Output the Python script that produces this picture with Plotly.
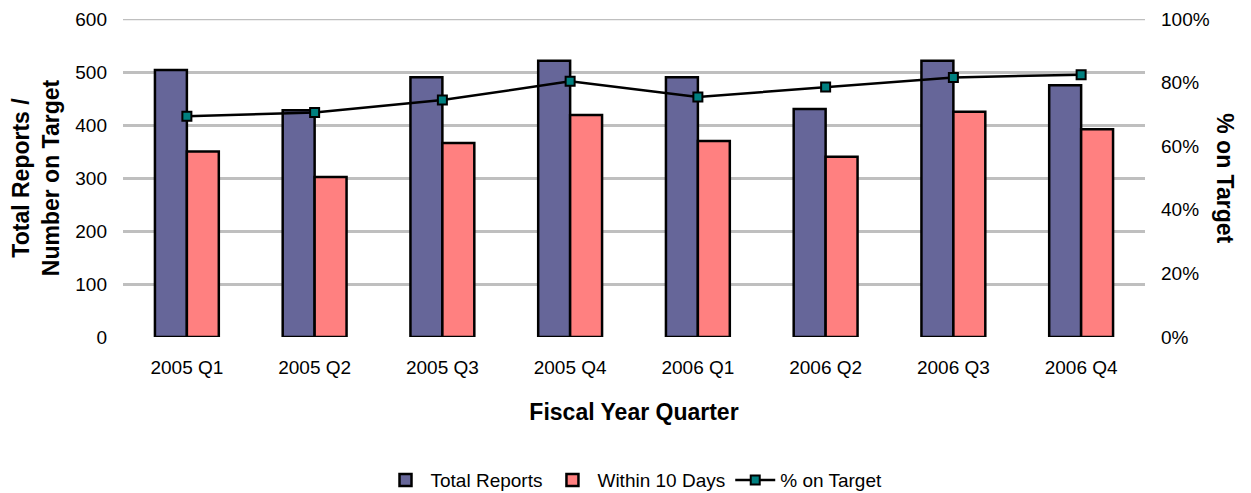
import plotly.graph_objects as go

quarters = ["2005 Q1", "2005 Q2", "2005 Q3", "2005 Q4", "2006 Q1", "2006 Q2", "2006 Q3", "2006 Q4"]
total_reports = [504, 428, 490, 521, 490, 430, 521, 475]
within_10_days = [350, 302, 366, 419, 370, 340, 425, 392]
pct_on_target = [0.694, 0.706, 0.745, 0.804, 0.755, 0.786, 0.816, 0.825]
left_ticks = [0, 100, 200, 300, 400, 500, 600]
right_ticks = [0, 0.2, 0.4, 0.6, 0.8, 1.0]

FONT = "Liberation Sans, Arial, sans-serif"
GRID = "#BFBFBF"

fig = go.Figure()
fig.add_trace(go.Bar(
    x=quarters, y=total_reports, name="Total Reports",
    marker=dict(color="#666699", line=dict(color="black", width=2.5)),
))
fig.add_trace(go.Bar(
    x=quarters, y=within_10_days, name="Within 10 Days",
    marker=dict(color="#FF8080", line=dict(color="black", width=2.5)),
))
fig.add_trace(go.Scatter(
    x=quarters, y=pct_on_target, name="% on Target", yaxis="y2",
    mode="lines+markers",
    line=dict(color="black", width=2.5),
    marker=dict(symbol="square", size=9, color="#008080", line=dict(color="black", width=2)),
))

fig.update_layout(
    width=1243, height=485,
    paper_bgcolor="white", plot_bgcolor="white",
    margin=dict(l=115, r=106, t=11, b=156, autoexpand=False),
    barmode="group", bargap=0.5, bargroupgap=0,
    font=dict(family=FONT, size=19, color="black"),
    showlegend=True,
    legend=dict(orientation="h", x=0.5, xanchor="center", y=-0.45, yanchor="middle",
                font=dict(size=19), traceorder="normal", itemwidth=40),
    xaxis=dict(
        showgrid=False, showline=False, ticks="",
        tickfont=dict(size=19), ticklabelstandoff=17,
        title=dict(text="<b>Fiscal Year Quarter</b>", font=dict(size=23), standoff=26),
    ),
    yaxis=dict(
        range=[0, 600], tickvals=left_ticks,
        showgrid=True, gridcolor=GRID, gridwidth=2.5,
        zeroline=False, showline=False,
        ticks="", ticklabelstandoff=15,
        tickfont=dict(size=19),
        title=dict(text="<b>Total Reports /<br>Number on Target</b>", font=dict(size=23), standoff=9),
    ),
    yaxis2=dict(
        range=[0, 1], tickvals=right_ticks, tickformat=".0%",
        overlaying="y", side="right",
        showgrid=False, zeroline=False, showline=False,
        ticks="", ticklabelstandoff=15,
        tickfont=dict(size=19),
    ),
    shapes=[dict(
        type="line", xref="paper", yref="y", x0=0, x1=1, y0=left_ticks[-1], y1=left_ticks[-1],
        line=dict(color=GRID, width=2.5), layer="below",
    )],
    annotations=[dict(
        text="<b>% on Target</b>", textangle=90,
        xref="paper", yref="paper", x=1.078, y=0.5,
        xanchor="center", yanchor="middle", showarrow=False,
        font=dict(size=23),
    )],
)

fig.write_html("out.html")
